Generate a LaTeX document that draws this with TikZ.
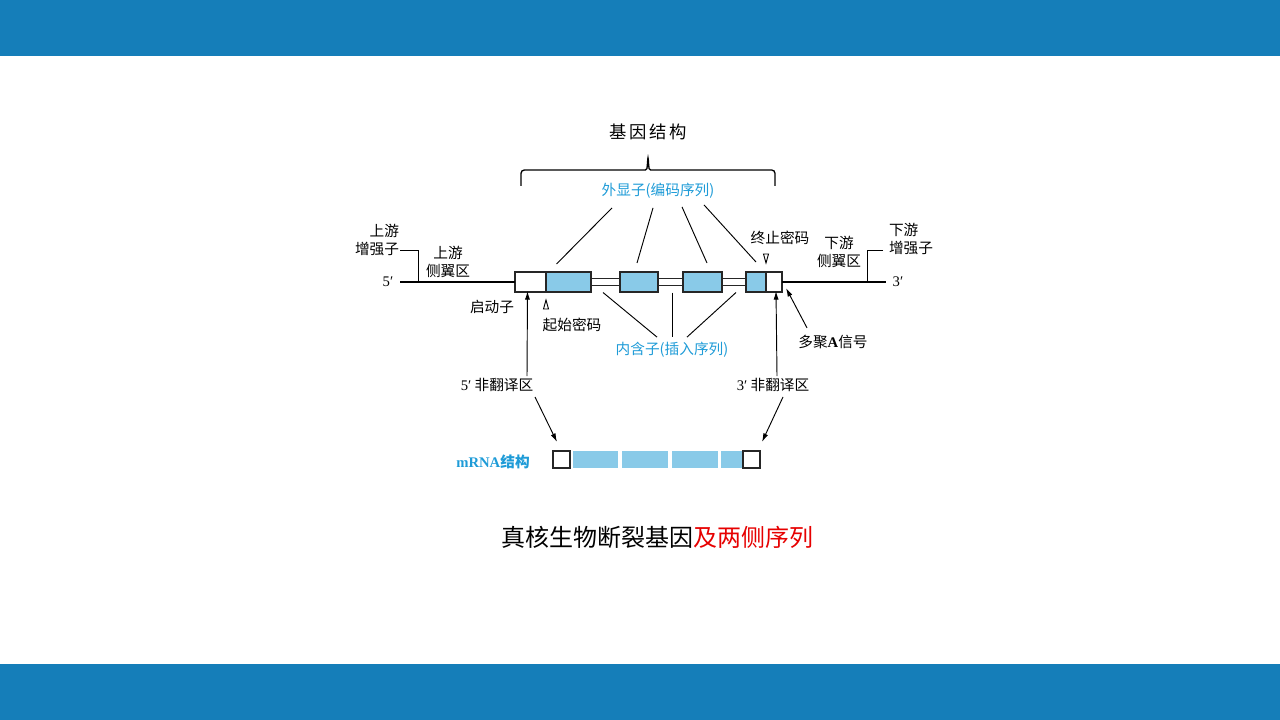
\documentclass[tikz,border=0pt]{standalone}
\usepackage{fontspec}
\setmainfont{Noto Sans CJK SC}
\newfontfamily\lat{Liberation Serif}
\usetikzlibrary{positioning}
\usetikzlibrary{calc}
\usetikzlibrary{arrows.meta}

\definecolor{barblue}{RGB}{21,126,185}
\definecolor{exonfill}{RGB}{137,202,232}
\definecolor{labblue}{RGB}{30,155,215}
\definecolor{titlered}{RGB}{230,0,0}

\begin{document}
\begin{tikzpicture}[
    x=0.75pt, y=-0.75pt,
    lab/.style={
        font=\fontsize{11}{13}\selectfont,
        inner sep=0pt, align=center
    },
    bluelab/.style={lab, text=labblue},
    utr/.style={
        draw=black!85, fill=white, line width=0.9pt,
        minimum height=15pt, inner sep=0pt, outer sep=0pt
    },
    exon/.style={utr, fill=exonfill},
    intron/.style={
        draw=black!85, fill=white, line width=0.8pt,
        minimum height=5.25pt, inner sep=0pt, outer sep=0pt
    },
    mutr/.style={
        draw=black!85, fill=white, line width=0.9pt,
        minimum width=12.75pt, minimum height=12.75pt,
        inner sep=0pt, outer sep=0pt
    },
    mexon/.style={fill=exonfill, minimum height=12.75pt, inner sep=0pt, outer sep=0pt},
    gene/.style={line width=1.6pt},
    pointer/.style={line width=0.7pt},
    arr/.style={->,>={Latex[length=6.5pt,width=3.8pt]}, line width=0.7pt}
]
\useasboundingbox (0,0) rectangle (1280,720);
\fill[barblue] (0,0) rectangle (1280,56);
\fill[barblue] (0,664) rectangle (1280,720);

% gene
\node[utr, minimum width=23.25pt] (u5) at (530.5,282) {};
\node[exon, minimum width=33.75pt, right=0pt of u5] (e1) {};
\node[intron, minimum width=21.75pt, right=0pt of e1] (i1) {};
\node[exon, minimum width=28.5pt, right=0pt of i1] (e2) {};
\node[intron, minimum width=18.75pt, right=0pt of e2] (i2) {};
\node[exon, minimum width=29.25pt, right=0pt of i2] (e3) {};
\node[intron, minimum width=18pt, right=0pt of e3] (i3) {};
\node[exon, minimum width=15pt, right=0pt of i3] (e4) {};
\node[utr, minimum width=12pt, right=0pt of e4] (u3) {};

\node[lab] (five) at (388,282) {\lat 5′};
\node[lab] (three) at (898,282) {\lat 3′};
\coordinate (g5) at (400,282);
\coordinate (g3) at (886,282);
\draw[gene] (g5) -- (u5.west);
\draw[gene] (u3.east) -- (g3);

% flanks
\node[lab, align=right] (uenh) at (377,240) {上游\\增强子};
\node[lab] (uflank) at (448,262) {上游\\侧翼区};
\node[lab] (dflank) at (839,252) {下游\\侧翼区};
\node[lab, align=left] (denh) at (911,239) {下游\\增强子};
\coordinate (ue) at (400,250);
\coordinate (ub) at (418,282);
\coordinate (de) at (883,250);
\coordinate (db) at (867,282);
\draw[pointer] (ue) -| (ub);
\draw[pointer] (de) -| (db);

% codons
\node[lab] (prom) at (492,307) {启动子};
\node[lab] (start) at (572,325) {起始密码};
\node[lab] (stop) at (780,238) {终止密码};
\draw[pointer] ($(u5.south east)+(0,8)$) -- ++(2.5,9) -- ++(-5,0) -- cycle;
\draw[pointer] ($(e4.north east)+(0,-9)$) -- ++(2.5,-9) -- ++(-5,0) -- cycle;

% exons and introns
\node[bluelab] (exlab) at (658,191) {外显子(编码序列)};
\draw[pointer] ($(exlab.south)+(-46,9)$) -- ($(e1.north)+(-12,-8)$);
\draw[pointer] ($(exlab.south)+(-5,9)$) -- ($(e2.north)+(-2,-9)$);
\draw[pointer] ($(exlab.south)+(24,8)$) -- ($(e3.north)+(4.5,-9)$);
\draw[pointer] ($(exlab.south)+(46,6)$) -- ($(e4.north)+(0,-10)$);

\node[bluelab] (inlab) at (672,350) {内含子(插入序列)};
\draw[pointer] ($(i1.south)+(-2.5,7)$) -- ($(inlab.north)+(-15,-5)$);
\draw[pointer] ($(i2.south)+(1.5,7)$) -- ($(inlab.north)+(0,-5)$);
\draw[pointer] ($(i3.south)+(2,7)$) -- ($(inlab.north)+(15,-5)$);

% untranslated regions
\node[lab] (utr5) at (497,385) {{\lat 5′} 非翻译区};
\node[lab] (utr3) at (773,385) {{\lat 3′} 非翻译区};
\node[lab] (polya) at (833,342) {多聚{\lat\bfseries A}信号};
\draw[arr] ($(utr5.north)+(30,-2)$) -- ($(u5.south)+(-3,-1)$);
\draw[arr] ($(utr3.north)+(4,-2)$) -- ($(u3.south)+(2,-1)$);
\draw[arr] ($(polya.north)+(-26,-7)$) -- ($(u3.south east)+(4,-4)$);

% mRNA
\node[mutr] (m1) at (561.5,459.5) {};
\node[mexon, minimum width=33.75pt, right=2.25pt of m1] (b1) {};
\node[mexon, minimum width=34.5pt, right=3pt of b1] (b2) {};
\node[mexon, minimum width=34.5pt, right=3pt of b2] (b3) {};
\node[mexon, minimum width=15.75pt, right=2.25pt of b3] (b4) {};
\node[mutr, right=0.75pt of b4] (m2) {};
\node[bluelab] (mlab) at (493,462) {{\lat\bfseries mRNA}\textbf{结构}};
\draw[arr] ($(utr5.south)+(38,5)$) -- ($(m1.north)+(-4.5,-9)$);
\draw[arr] ($(utr3.south)+(10,5)$) -- ($(m2.north)+(10.5,-9)$);

% brace
\node[lab, font=\fontsize{13}{15}\selectfont] (struct) at (648,132)
    {基\hspace{2pt}因\hspace{2pt}结\hspace{2pt}构};
\draw[pointer, line width=1pt, rounded corners=2.5pt]
    (521,186) -- (521,170) -- (642,170)
    .. controls (647,170) .. (648,156)
    .. controls (649,170) .. (654,170) -- (775,170) -- (775,186);

\node[font=\fontsize{18}{20}\selectfont] (title) at (657,537)
    {真核生物断裂基因\textcolor{titlered}{及两侧序列}};
\end{tikzpicture}
\end{document}
